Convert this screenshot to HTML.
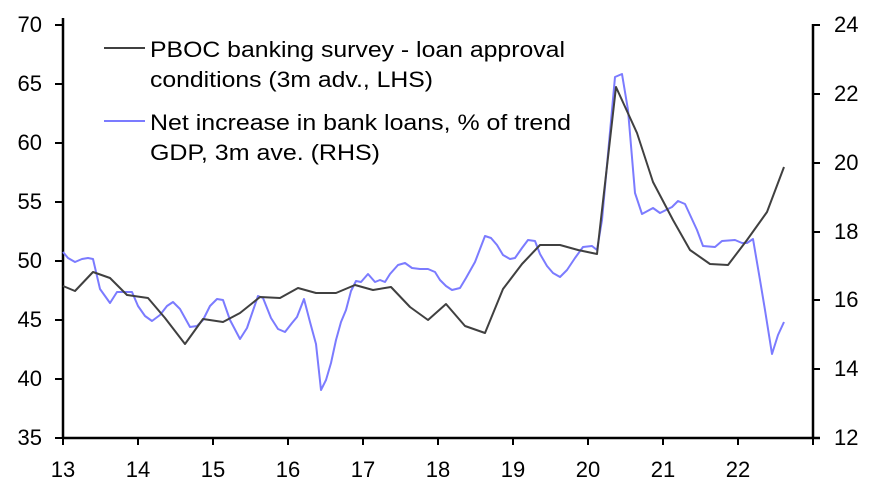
<!DOCTYPE html>
<html><head><meta charset="utf-8"><style>
html,body{margin:0;padding:0;background:#fff;}
svg{display:block;font-family:"Liberation Sans",Arial,sans-serif;}
</style></head><body>
<svg width="875" height="496" viewBox="0 0 875 496">
<g stroke="#000" stroke-width="2.5" fill="none">
<line x1="63" y1="18" x2="63" y2="439"/>
<line x1="813" y1="24" x2="813" y2="439"/>
<line x1="62" y1="438" x2="820" y2="438"/>
</g>
<g stroke="#000" stroke-width="2">
<line x1="55" y1="25" x2="63" y2="25"/><line x1="55" y1="84" x2="63" y2="84"/><line x1="55" y1="143" x2="63" y2="143"/><line x1="55" y1="202" x2="63" y2="202"/><line x1="55" y1="261" x2="63" y2="261"/><line x1="55" y1="320" x2="63" y2="320"/><line x1="55" y1="379" x2="63" y2="379"/><line x1="55" y1="438" x2="63" y2="438"/>
<line x1="812" y1="25" x2="820" y2="25"/><line x1="813" y1="94" x2="820" y2="94"/><line x1="813" y1="163" x2="820" y2="163"/><line x1="813" y1="232" x2="820" y2="232"/><line x1="813" y1="300" x2="820" y2="300"/><line x1="813" y1="369" x2="820" y2="369"/><line x1="813" y1="438" x2="820" y2="438"/>
<line x1="63" y1="438" x2="63" y2="445"/><line x1="138" y1="438" x2="138" y2="445"/><line x1="213" y1="438" x2="213" y2="445"/><line x1="288" y1="438" x2="288" y2="445"/><line x1="363" y1="438" x2="363" y2="445"/><line x1="438" y1="438" x2="438" y2="445"/><line x1="513" y1="438" x2="513" y2="445"/><line x1="588" y1="438" x2="588" y2="445"/><line x1="663" y1="438" x2="663" y2="445"/><line x1="738" y1="438" x2="738" y2="445"/><line x1="813" y1="438" x2="813" y2="445"/>
</g>
<g font-size="22" fill="#000" text-anchor="end">
<text x="42" y="32">70</text><text x="42" y="91">65</text><text x="42" y="150">60</text><text x="42" y="209">55</text><text x="42" y="268">50</text><text x="42" y="327">45</text><text x="42" y="386">40</text><text x="42" y="445">35</text>
</g>
<g font-size="22" fill="#000" text-anchor="start">
<text x="834" y="32">24</text><text x="834" y="101">22</text><text x="834" y="170">20</text><text x="834" y="239">18</text><text x="834" y="307">16</text><text x="834" y="376">14</text><text x="834" y="445">12</text>
</g>
<g font-size="22" fill="#000" text-anchor="middle">
<text x="63" y="477">13</text><text x="138" y="477">14</text><text x="213" y="477">15</text><text x="288" y="477">16</text><text x="363" y="477">17</text><text x="438" y="477">18</text><text x="513" y="477">19</text><text x="588" y="477">20</text><text x="663" y="477">21</text><text x="738" y="477">22</text>
</g>
<polyline fill="none" stroke="#7b7bff" stroke-width="2" stroke-linejoin="round" points="63,252 68,258 75,262 82,259 88,258 93,259 100,289 110,303 117,292 127,292 132,292 138,306 145,316 152,321 160,315 167,306 173,302 180,309 185,318 190,327 197,326 203,320 210,306 217,299 223,300 230,320 240,339 247,328 258,296 263,298 271,318 278,329 285,332 292,323 297,317 304,299 310,322 316,344 321,390 326,380 331,363 336,340 341,322 346,310 351,291 356,281 361,282 368,274 375,282 380,280 385,282 390,274 398,265 405,263 412,268 420,269 428,269 435,272 440,280 446,286 452,290 460,288 466,278 475,262 485,236 491,238 497,245 503,255 510,259 515,258 522,248 528,240 535,241 540,254 547,266 553,273 560,277 567,270 575,258 583,247 592,246 597,250 602,220 615,77 622,74 628,110 635,193 642,214 653,208 660,213 672,207 678,201 685,204 697,230 703,246 715,247 722,241 735,240 742,243 747,243 753,239 760,280 765,310 772,354 778,335 784,322"/>
<polyline fill="none" stroke="#404040" stroke-width="2" stroke-linejoin="round" points="63,286 75,291 93,272 110,278 127,295 148,298 165,318 185,344 203,319 223,322 240,313 260,297 280,298 298,288 316,293 336,293 355,285 373,290 391,287 410,307 428,320 446,304 465,326 485,333 503,289 522,264 540,245 560,245 578,250 597,254 616,87 637,133 653,182 673,220 690,250 710,264 728,265 747,240 767,212 784,167"/>
<line x1="104" y1="48" x2="145" y2="48" stroke="#404040" stroke-width="2"/>
<line x1="104" y1="121" x2="145" y2="121" stroke="#7b7bff" stroke-width="2"/>
<g font-size="22" fill="#000">
<text x="150" y="57" textLength="415" lengthAdjust="spacingAndGlyphs">PBOC banking survey - loan approval</text>
<text x="150" y="87" textLength="283" lengthAdjust="spacingAndGlyphs">conditions (3m adv., LHS)</text>
<text x="150" y="130" textLength="421" lengthAdjust="spacingAndGlyphs">Net increase in bank loans, % of trend</text>
<text x="150" y="160" textLength="230" lengthAdjust="spacingAndGlyphs">GDP, 3m ave. (RHS)</text>
</g>
</svg>
</body></html>
